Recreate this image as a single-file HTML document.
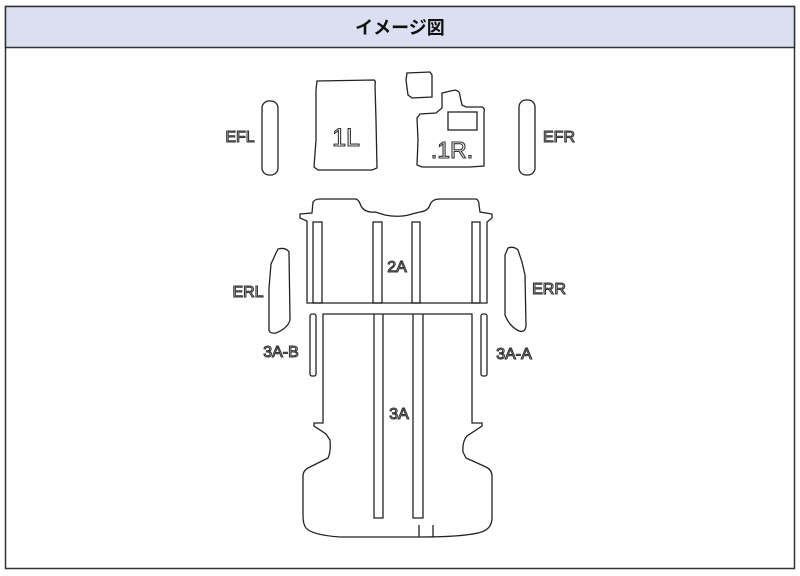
<!DOCTYPE html>
<html><head><meta charset="utf-8"><style>
html,body{margin:0;padding:0;background:#fff;width:800px;height:576px;overflow:hidden}
</style></head><body>
<svg width="800" height="576" viewBox="0 0 800 576" xmlns="http://www.w3.org/2000/svg">
<rect x="5.5" y="6.5" width="789" height="562" fill="#fff" stroke="#333" stroke-width="1.5"/>
<rect x="5.5" y="6.5" width="789" height="41" fill="#dae0f1" stroke="#333" stroke-width="1.5"/>
<text x="400" y="34" text-anchor="middle" font-family="Liberation Sans, Noto Sans CJK JP, sans-serif" font-size="18" font-weight="bold" fill="#111">イメージ図</text>
<g fill="none" stroke="#222" stroke-width="1.3">
<rect x="262" y="101" width="16" height="74" rx="7"/>
<path d="M317 81 L374 80 Q376 81 375 85 L376 120 L377 168 L372 170 L318 170 L314 167 L316 140 L316 90 Z"/>
<path d="M407 73 L430 72 L432 75 L432 97 L412 98 L408 95 L406 80 Z"/>
<path d="M442 93 L455 90 Q460 91 460 96 L462 105 L466 107 L482 107 Q485 108 484 112 L484 166 L470 167 L422 167 L417 165 L418 140 L417 118 L420 114 L436 113 L442 108 Z"/>
<rect x="448" y="112" width="29" height="18"/>
<rect x="519" y="100" width="16" height="75" rx="7"/>
<path d="M300 214 L312 213 L313 202 Q315 199 320 199 L356 199 Q359 200 361 206 Q365 213 375 212 L385 215 Q400 218 412 214 L420 212 Q428 211 430 205 Q432 199 440 199 L476 199 Q479 200 479 205 L480 212 Q486 213 492 214 L492 218 L487 222 L487 303 L307 303 L307 221 L300 218 Z"/>
<rect x="313" y="222" width="9" height="81"/>
<rect x="373" y="222" width="9" height="81"/>
<rect x="412" y="222" width="8" height="81"/>
<rect x="472" y="222" width="8" height="81"/>
<path d="M278 249 Q286 247 289 252 L290 320 Q288 328 276 333 Q268 334 269 328 L269 288 L271 264 L276 253 Z"/>
<path d="M508 248 Q514 246 518 250 L522 262 L525 275 L526 326 Q525 333 519 331 Q509 326 505 315 L505 255 Z"/>
<rect x="310" y="314" width="6" height="62" rx="2"/>
<rect x="481" y="314" width="6" height="62" rx="2"/>
<path d="M323 314 L472 314 L472 423 L482 423 L482 426 L467 436 Q462 442 463 452 L466 458 L486 467 Q492 470 492 476 L492 518 Q492 530 478 533 Q460 537 420 537 L340 537 Q312 535 306 528 Q303 524 303 516 L303 476 Q303 470 310 467 L328 458 Q331 452 330 440 L326 434 L314 426 L314 423 L323 423 Z"/>
<path d="M374 314 L374 518 L383 518 L383 314"/>
<path d="M413 314 L413 518 L423 518 L423 314"/>
<path d="M419 525 L419 537 M433 525 L433 537"/>
</g>
<g font-family="Liberation Sans, sans-serif" fill="#fff" stroke="#333" stroke-width="1.1" text-anchor="middle" paint-order="normal">
<text x="240" y="142" font-size="16">EFL</text>
<text x="346" y="146" font-size="25">1L</text>
<text x="452" y="158" font-size="23">.1R.</text>
<text x="559" y="142" font-size="16">EFR</text>
<text x="397" y="272" font-size="16">2A</text>
<text x="248" y="297" font-size="16">ERL</text>
<text x="549" y="294" font-size="16">ERR</text>
<text x="281" y="357" font-size="16">3A-B</text>
<text x="514" y="359" font-size="16">3A-A</text>
<text x="399" y="419" font-size="16">3A</text>
</g>
</svg>
</body></html>
